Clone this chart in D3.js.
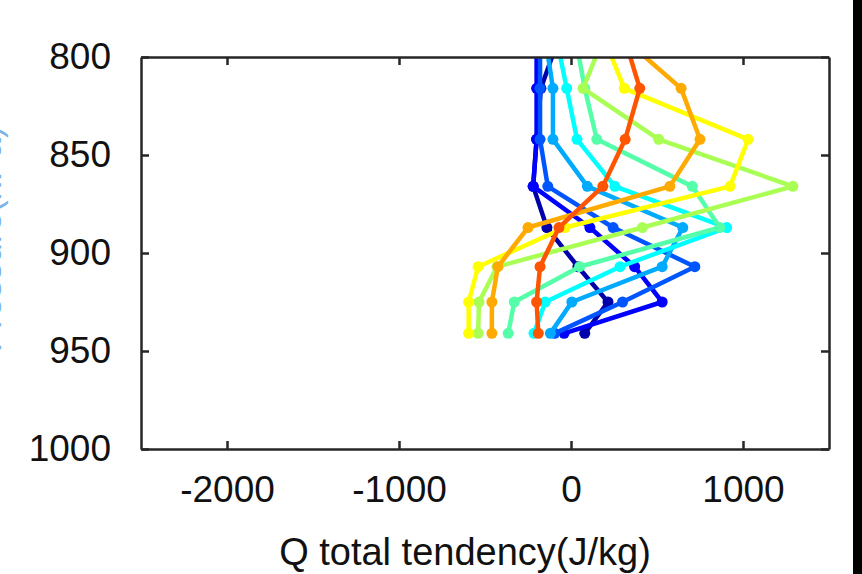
<!DOCTYPE html>
<html>
<head>
<meta charset="utf-8">
<script src="https://cdn.jsdelivr.net/npm/d3@7"></script>
<style>
  body { margin: 0; background: #fff; }
  svg { display: block; }
</style>
</head>
<body>
<svg id="chart"></svg>
<script>
// pressure levels (hPa), top one sits above the plot and gets clipped
const levels = [790, 816, 842, 866, 887, 907, 925, 941];

// one profile per time step, jet colours from navy to red
const sNavy   = [-70, -175, -200, -220, -140, 40, 215, 80];
const sBlue   = [-200, -200, -200, -220, 110, 370, 530, -40];
const sBlue2  = [-180, -180, -180, -135, 245, 720, 300, -95];
const sSky    = [-150, -105, -105, 95, 650, 530, 5, -120];
const sCyan   = [-85, -25, 35, 255, 905, 285, -150, -215];
const sAqua   = [25, 80, 150, 705, 865, 50, -330, -365];
const sLime   = [190, 70, 510, 1290, 415, -430, -535, -540];
const sYellow = [190, 310, 1030, 925, -35, -540, -595, -595];
const sOrange = [300, 640, 750, 575, -250, -425, -460, -460];
const sRed    = [310, 400, 315, 185, -70, -180, -200, -190];

const series = [sNavy, sBlue, sBlue2, sSky, sCyan, sAqua, sLime, sYellow, sOrange, sRed];
const colors = ["#0000aa", "#0000ff", "#0055ff", "#00aaff", "#00ffff",
                "#55ffaa", "#aaff55", "#ffff00", "#ffaa00", "#ff5500"];

const xTicks = [-2000, -1000, 0, 1000];
const yTicks = [800, 850, 900, 950, 1000];

const W = 862, H = 574;
const margin = { top: 57, right: 33, bottom: 125, left: 141 };
const width = W - margin.left - margin.right;
const height = H - margin.top - margin.bottom;

const svg = d3.select("#chart").attr("width", W).attr("height", H);

const x = d3.scaleLinear().domain([-2500, 1500]).range([0, width]);
const y = d3.scaleLinear().domain([800, 1000]).range([0, height]);

const g = svg.append("g").attr("transform", `translate(${margin.left},${margin.top})`);

g.append("defs").append("clipPath").attr("id", "clip")
  .append("rect").attr("width", width).attr("height", height);

const plot = g.append("g").attr("clip-path", "url(#clip)");

const line = d3.line()
  .x(d => x(d[0]))
  .y(d => y(d[1]));

series.forEach((s, i) => {
  const pts = s.map((v, j) => [v, levels[j]]);
  const grp = plot.append("g");
  grp.append("path")
    .datum(pts)
    .attr("fill", "none")
    .attr("stroke", colors[i])
    .attr("stroke-width", 4.5)
    .attr("stroke-linejoin", "round")
    .attr("d", line);
  grp.selectAll("circle")
    .data(pts)
    .enter()
    .append("circle")
    .attr("cx", d => x(d[0]))
    .attr("cy", d => y(d[1]))
    .attr("r", 5.5)
    .attr("fill", colors[i]);
});

// axes, ticks pointing inward, box all round
const axisColor = "#262626";
const fontFam = "'Liberation Sans', Arial, Helvetica, sans-serif";
const fmt = d => String(d);   // plain hyphen minus, no thousands comma

const xb = g.append("g").attr("transform", `translate(0,${height})`)
  .call(d3.axisBottom(x).tickValues(xTicks).tickFormat(fmt).tickSizeInner(-8).tickSizeOuter(0).tickPadding(27));
const xt = g.append("g")
  .call(d3.axisTop(x).tickValues(xTicks).tickSizeInner(-8).tickSizeOuter(0).tickFormat(""));
const yl = g.append("g")
  .call(d3.axisLeft(y).tickValues(yTicks).tickFormat(fmt).tickSizeInner(-8).tickSizeOuter(0).tickPadding(30));
const yr = g.append("g").attr("transform", `translate(${width},0)`)
  .call(d3.axisRight(y).tickValues(yTicks).tickSizeInner(-8).tickSizeOuter(0).tickFormat(""));

[xb, xt, yl, yr].forEach(a => {
  a.select(".domain").attr("stroke", axisColor).attr("stroke-width", 2.5);
  a.selectAll(".tick line").attr("stroke", axisColor).attr("stroke-width", 2.5);
  a.selectAll(".tick text")
    .attr("fill", "#111")
    .style("font-family", fontFam)
    .style("font-size", "37px");
});

svg.append("text")
  .attr("x", 465)
  .attr("y", 565)
  .attr("text-anchor", "middle")
  .attr("fill", "#111")
  .style("font-family", fontFam)
  .style("font-size", "38px")
  .text("Q total tendency(J/kg)");

// y label mostly cut off at the left edge
svg.append("text")
  .attr("transform", `translate(1,${margin.top + y(893)}) rotate(-90)`)
  .attr("text-anchor", "middle")
  .attr("fill", "#7fb2e5")
  .style("font-family", fontFam)
  .style("font-size", "35px")
  .text("Pressure(hPa)");

// dark strip on the right edge of the picture
svg.append("rect")
  .attr("x", 853).attr("y", 0)
  .attr("width", 9).attr("height", H)
  .attr("fill", "#000");
</script>
</body>
</html>
